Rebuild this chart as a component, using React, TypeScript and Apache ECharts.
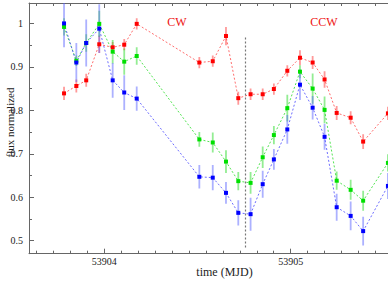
import React, { useEffect, useRef } from "react";
import * as echarts from "echarts";

// MJD times of the observations
const times = [
  53903.784, 53903.850, 53903.903, 53903.973, 53904.045, 53904.107, 53904.174,
  53904.510, 53904.582, 53904.653, 53904.719, 53904.785, 53904.850, 53904.910,
  53904.982, 53905.050, 53905.118, 53905.182, 53905.247, 53905.322, 53905.389,
  53905.522,
];

const red = [
  0.839, 0.856, 0.869, 0.952, 0.945, 0.951, 0.999, 0.910, 0.913, 0.971, 0.828,
  0.837, 0.837, 0.849, 0.891, 0.921, 0.910, 0.871, 0.794, 0.783, 0.728, 0.793,
];
const redErr = [
  0.015, 0.015, 0.015, 0.02, 0.012, 0.013, 0.013, 0.013, 0.013, 0.021, 0.015,
  0.013, 0.013, 0.013, 0.013, 0.017, 0.015, 0.019, 0.016, 0.015, 0.017, 0.015,
];

const green = [
  0.992, 0.914, 0.955, 0.999, 0.935, 0.912, 0.925, 0.733, 0.726, 0.682, 0.637,
  0.633, 0.692, 0.743, 0.805, 0.889, 0.850, 0.801, 0.638, 0.617, 0.592, 0.679,
];
const greenErr = [
  0.02, 0.012, 0.02, 0.03, 0.027, 0.03, 0.02, 0.017, 0.023, 0.026, 0.021,
  0.025, 0.025, 0.021, 0.031, 0.015, 0.035, 0.031, 0.021, 0.023, 0.023, 0.02,
];

const blue = [
  1.0, 0.910, 0.955, 0.988, 0.869, 0.841, 0.827, 0.647, 0.645, 0.610, 0.564,
  0.561, 0.630, 0.687, 0.756, 0.859, 0.806, 0.739, 0.577, 0.557, 0.522, 0.626,
];
const blueErr = [
  0.055, 0.045, 0.054, 0.056, 0.04, 0.04, 0.028, 0.027, 0.029, 0.025, 0.029,
  0.038, 0.031, 0.024, 0.033, 0.035, 0.027, 0.03, 0.031, 0.033, 0.033, 0.03,
];

const xMajor = [53904, 53905];
const yMajor = [0.5, 0.6, 0.7, 0.8, 0.9, 1.0];
const yMinor = [0.55, 0.65, 0.75, 0.85, 0.95];

const X_MIN = 53903.596;
const X_MAX = 53905.737;
const Y_MIN = 0.47;
const Y_MAX = 1.047;
const V_LINE = 53904.759;
const V_LINE_RANGE = [0.484, 0.971];

// 11 minor divisions per day
const xMinor: number[] = [];
for (let k = -11; k <= 22; k++) {
  const v = 53904 + k / 11;
  if (v > X_MIN && v < X_MAX && k % 11 !== 0) xMinor.push(v);
}

const FONT = '"Liberation Serif", "DejaVu Serif", serif';
const AXIS_COLOR = "#666";

// the plot continues past the right edge of the picture
const CHART_W = 428;
const CHART_H = 300;

export default function App() {
  const ref = useRef<HTMLDivElement>(null);
  useEffect(() => {
    const chart = echarts.init(ref.current!, null, { renderer: "svg" });

    const grid = { left: 29, top: 3, right: 0, bottom: 46.3 };

    const errSeries = (vals: number[], errs: number[], color: string) => ({
      type: "custom",
      xAxisIndex: 0,
      yAxisIndex: 0,
      clip: true,
      silent: true,
      data: times.map((t, i) => [t, vals[i] - errs[i], vals[i] + errs[i]]),
      encode: { x: 0, y: [1, 2] },
      renderItem: (_p: any, api: any) => {
        const lo = api.coord([api.value(0), api.value(1)]);
        const hi = api.coord([api.value(0), api.value(2)]);
        return {
          type: "line",
          shape: { x1: lo[0], y1: lo[1], x2: hi[0], y2: hi[1] },
          style: { stroke: color, lineWidth: 1.8 },
        };
      },
    });

    const lineSeries = (vals: number[], color: string, lineColor: string, extra: any = {}) => ({
      type: "line",
      xAxisIndex: 0,
      yAxisIndex: 0,
      data: times.map((t, i) => [t, vals[i]]),
      symbol: "rect",
      symbolSize: 4,
      showSymbol: true,
      itemStyle: { color },
      lineStyle: { color: lineColor, width: 1, type: [2, 2] },
      ...extra,
    });

    const xAxisBase = {
      type: "value",
      min: X_MIN,
      max: X_MAX,
      splitLine: { show: false },
    };
    const yAxisBase = {
      type: "value",
      min: Y_MIN,
      max: Y_MAX,
      splitLine: { show: false },
    };

    const option: any = {
      animation: false,
      grid: [grid, grid],
      xAxis: [
        {
          ...xAxisBase,
          gridIndex: 0,
          position: "bottom",
          axisLine: { show: true, lineStyle: { color: AXIS_COLOR, width: 1 } },
          axisTick: { show: true, inside: true, length: 5, customValues: xMajor, lineStyle: { color: AXIS_COLOR } },
          axisLabel: {
            show: true,
            customValues: xMajor,
            margin: 3,
            color: "#222",
            fontFamily: FONT,
            fontSize: 10,
            formatter: (v: number) => String(Math.round(v)),
          },
        },
        {
          ...xAxisBase,
          gridIndex: 0,
          position: "top",
          axisLine: { show: true, lineStyle: { color: AXIS_COLOR, width: 1 } },
          axisTick: { show: true, inside: true, length: 5, customValues: xMajor, lineStyle: { color: AXIS_COLOR } },
          axisLabel: { show: false },
        },
        {
          ...xAxisBase,
          gridIndex: 1,
          position: "bottom",
          axisLine: { show: false },
          axisTick: { show: true, inside: true, length: 3, customValues: xMinor, lineStyle: { color: AXIS_COLOR } },
          axisLabel: { show: false },
        },
        {
          ...xAxisBase,
          gridIndex: 1,
          position: "top",
          axisLine: { show: false },
          axisTick: { show: true, inside: true, length: 3, customValues: xMinor, lineStyle: { color: AXIS_COLOR } },
          axisLabel: { show: false },
        },
      ],
      yAxis: [
        {
          ...yAxisBase,
          gridIndex: 0,
          position: "left",
          axisLine: { show: true, lineStyle: { color: AXIS_COLOR, width: 1 } },
          axisTick: { show: true, inside: true, length: 5, customValues: yMajor, lineStyle: { color: AXIS_COLOR } },
          axisLabel: {
            show: true,
            customValues: yMajor,
            margin: 6,
            color: "#222",
            fontFamily: FONT,
            fontSize: 10,
            formatter: (v: number) => (Math.abs(v - 1) < 1e-9 ? "1" : v.toFixed(1)),
          },
        },
        {
          ...yAxisBase,
          gridIndex: 1,
          position: "left",
          axisLine: { show: false },
          axisTick: { show: true, inside: true, length: 3, customValues: yMinor, lineStyle: { color: AXIS_COLOR } },
          axisLabel: { show: false },
        },
      ],
      series: [
        errSeries(red, redErr, "rgba(255,70,70,0.55)"),
        errSeries(green, greenErr, "rgba(40,220,40,0.5)"),
        errSeries(blue, blueErr, "rgba(90,100,255,0.5)"),
        lineSeries(red, "#ff0000", "rgba(255,60,60,0.75)", {
          markLine: {
            silent: true,
            symbol: "none",
            label: { show: false },
            lineStyle: { color: "#777", type: [2, 2], width: 1.2 },
            data: [[{ coord: [V_LINE, V_LINE_RANGE[0]] }, { coord: [V_LINE, V_LINE_RANGE[1]] }]],
          },
        }),
        lineSeries(green, "#00e000", "rgba(40,220,40,0.8)"),
        lineSeries(blue, "#0000ff", "rgba(60,60,255,0.75)"),
      ],
      graphic: [
        {
          type: "text",
          x: 177,
          y: 22,
          style: { text: "CW", fill: "#ee1111", font: `12px ${FONT}`, align: "center", verticalAlign: "middle" },
        },
        {
          type: "text",
          x: 324,
          y: 22,
          style: { text: "CCW", fill: "#ee1111", font: `12px ${FONT}`, align: "center", verticalAlign: "middle" },
        },
        {
          type: "text",
          x: 224.5,
          y: 272,
          style: { text: "time (MJD)", fill: "#222", font: `12px ${FONT}`, align: "center", verticalAlign: "middle" },
        },
        {
          type: "text",
          x: 9.5,
          y: 122.5,
          rotation: Math.PI / 2,
          style: { text: "flux normalized", fill: "#222", font: `11px ${FONT}`, align: "center", verticalAlign: "middle" },
        },
      ],
    };

    chart.setOption(option);
    return () => chart.dispose();
  }, []);

  return (
    <div
      style={{
        position: "absolute",
        left: 0,
        top: 0,
        width: 388,
        height: 300,
        overflow: "hidden",
        background: "#fff",
      }}
    >
      <div ref={ref} style={{ width: CHART_W, height: CHART_H }} />
    </div>
  );
}
